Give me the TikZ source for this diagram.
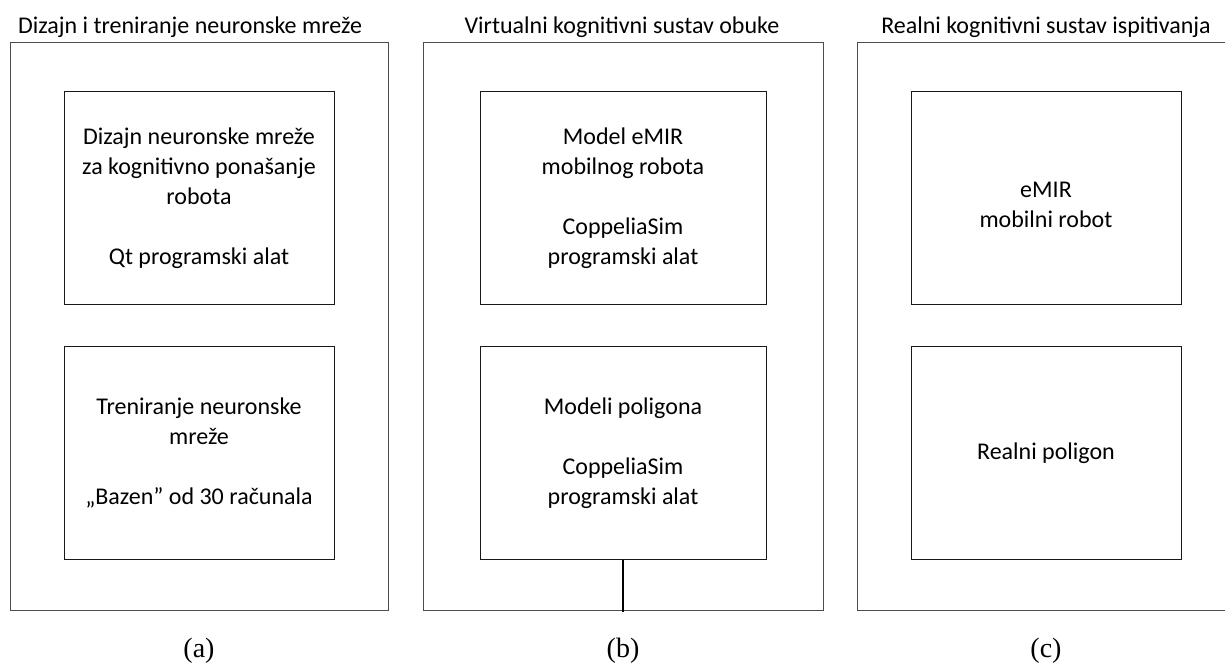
\documentclass[tikz,border=0pt]{standalone}
\usepackage{fontspec}
\setmainfont{Carlito}
\newfontfamily\timesfont{Liberation Serif}
\usepackage{tikz}
\usetikzlibrary{positioning}
\tikzstyle{outbox} = [draw=black!70,line width=1pt,minimum height=568pt,inner sep=0pt]
\tikzstyle{inbox} = [draw=black!90,line width=0.9pt,minimum width=270pt,minimum height=213pt,align=center,font=\fontsize{24}{30}\selectfont]
\tikzstyle{title} = [anchor=base,font=\fontsize{24}{30}\selectfont]
\tikzstyle{caption} = [anchor=base,font=\timesfont\fontsize{28}{32}\selectfont]

\begin{document}
\begin{tikzpicture}[x=1pt,y=-1pt]
\clip (0,0) rectangle (1225,665);

\foreach \name/\x/\w/\lab in {a/199/378/(a),b/623/400/(b),c/1046/378/(c)}
{
 \node[outbox,minimum width=\w pt] (out\name) at (\x,326) {};
 \node[caption] (cap\name) at (\x,657) {\lab};
}

\node[title] (titlea) at (190,33) {Dizajn i treniranje neuronske mreže};
\node[title] (titleb) at (622,33) {Virtualni kognitivni sustav obuke};
\node[title] (titlec) at (1046,33) {Realni kognitivni sustav ispitivanja};

\node[inbox] (design) at (199,198) {Dizajn neuronske mreže\\za kognitivno ponašanje\\robota\\[30pt]Qt programski alat};
\node[inbox] (training) at (199,453) {Treniranje neuronske\\mreže\\[30pt]„Bazen” od 30 računala};

\node[inbox,minimum width=286pt] (model) at (623,198) {Model eMIR\\mobilnog robota\\[30pt]CoppeliaSim\\programski alat};
\node[inbox,minimum width=286pt] (polygons) at (623,453) {Modeli poligona\\[30pt]CoppeliaSim\\programski alat};

\node[inbox] (robot) at (1046,198) {\mbox{}\\eMIR\\mobilni robot};
\node[inbox] (realpoly) at (1046,453) {Realni poligon};

\coordinate (linkend) at (623,612);
\draw[line width=1.8pt] (polygons.south) -- (linkend);

\end{tikzpicture}
\end{document}
